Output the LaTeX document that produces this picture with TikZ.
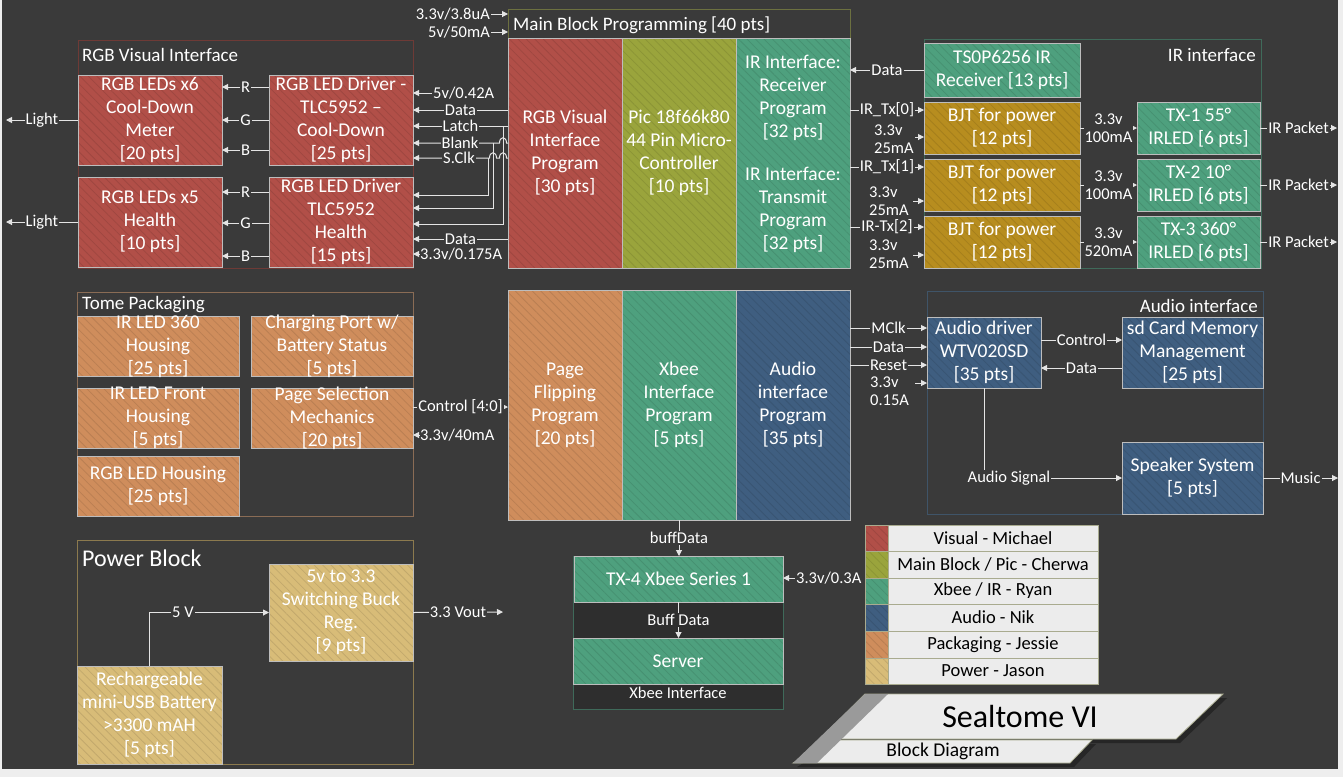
\documentclass[tikz,border=0pt]{standalone}
\usepackage{fontspec}
\setmainfont{Carlito}
\usetikzlibrary{arrows.meta,fit,calc,patterns.meta}
\definecolor{outerc}{HTML}{EEEEEE}
\definecolor{bg}{HTML}{3A3A3A}
\definecolor{xgrp}{HTML}{2E2E2E}
\definecolor{lc}{HTML}{E4E4E4}
\definecolor{bord}{HTML}{BDBDBD}
\definecolor{cred}{HTML}{B14F48}
\definecolor{colive}{HTML}{9AA43C}
\definecolor{cteal}{HTML}{4EA07E}
\definecolor{cblue}{HTML}{3F5E80}
\definecolor{corange}{HTML}{CF8D5C}
\definecolor{cgold}{HTML}{B78D1F}
\definecolor{ctan}{HTML}{D8BC78}
\definecolor{gred}{HTML}{6E3A36}
\definecolor{golive}{HTML}{6C7040}
\definecolor{gteal}{HTML}{3F6A5A}
\definecolor{gorange}{HTML}{8A6C55}
\definecolor{gblue}{HTML}{3F5468}
\definecolor{gtan}{HTML}{8C7A4E}
\definecolor{lcell}{HTML}{ECECEC}
\definecolor{lbord}{HTML}{A9AB8F}
\definecolor{shadowc}{HTML}{262626}
\definecolor{stripc}{HTML}{9A9A9A}
\newcommand\bxf{\fontsize{19.5}{23}\selectfont}
\newcommand\lbf{\fontsize{16.5}{18.5}\selectfont}
\newcommand\grpf{\fontsize{19}{22}\selectfont}
\tikzset{
  box/.style={draw=bord, line width=1pt, inner sep=0pt, outer sep=0pt,
    preaction={fill=#1},
    preaction={pattern={Lines[angle=-45,distance=6pt,line width=0.8pt]}, pattern color=#1!90!black}},
  btxt/.style={text=white, align=center, font=\bxf, inner sep=0pt},
  grp/.style={draw=#1, line width=1pt, fill=bg, inner sep=0pt, outer sep=0pt},
  gtitle/.style={text=white, font=\grpf, inner sep=0pt},
  lbl/.style={fill=bg, inner sep=1pt, text=white, font=\lbf},
  arr/.style={draw=lc, line width=1pt, -{Triangle[length=6pt,width=6pt]}},
  swatch/.style={draw=lbord, line width=1pt, inner sep=0pt, outer sep=0pt,
    preaction={fill=#1},
    preaction={pattern={Lines[angle=-45,distance=6pt,line width=0.8pt]}, pattern color=#1!90!black}},
  lcellbox/.style={draw=lbord, fill=lcell, line width=1pt, inner sep=0pt, outer sep=0pt},
  ltxt/.style={text=black, font=\fontsize{18.5}{21}\selectfont, inner sep=0pt},
}
\newcommand\mkbox[7]{\node[box=#2,fit={(#3,#4)(#5,#6)}](#1){};\node[btxt](#1t) at (#1.center){#7};}
\newcommand\mklegend[5]{\node[swatch=#2,fit={(865,#3)(888,#4)}](#1s){};\node[lcellbox,fit={(888,#3)(1098,#4)}](#1){};\node[ltxt](#1t) at (#1.center){#5};}
\begin{document}
\begin{tikzpicture}[x=1pt,y=-1pt]
\fill[outerc] (0,0) rectangle (1343,777);
\useasboundingbox (0,0) rectangle (1343,777);
\fill[bg] (2,0) rectangle (1338,769);

% ---------- groups ----------
\node[grp=gred, fit={(78,40)(413,268)}] (grgb) {};
\node[gtitle, anchor=west] (grgbt) at (82,55) {RGB Visual Interface};
\node[grp=golive, fit={(508,9)(850,268)}] (mgrp) {};
\node[gtitle, anchor=west] (mgrpt) at (513,25) {Main Block Programming [40 pts]};
\node[grp=gteal, fit={(924,39)(1261,268)}] (girg) {};
\node[gtitle, anchor=east] (girgt) at (1256,55) {IR interface};
\node[grp=gorange, fit={(77,292)(413,516)}] (gtome) {};
\node[gtitle, anchor=west] (gtomet) at (82,305) {Tome Packaging};
\node[grp=gblue, fit={(927,291)(1263,514)}] (gaud) {};
\node[gtitle, anchor=east] (gaudt) at (1258,306) {Audio interface};
\node[grp=gtan, fit={(77,540)(413,764)}] (gpow) {};
\node[gtitle, anchor=west, font=\fontsize{24}{28}\selectfont] (gpowt) at (82,558) {Power Block};
\node[grp=gteal, fill=xgrp, fit={(573,556)(783,709)}] (gxb) {};
\node[gtitle, font=\lbf] (gxbt) at (678,693) {Xbee Interface};

% ---------- RGB visual interface ----------
\mkbox{led1}{cred}{78}{75}{222}{165}{RGB LEDs x6\\Cool-Down\\Meter\\{[20 pts]}}
\mkbox{led2}{cred}{78}{177}{222}{267}{RGB LEDs x5\\Health\\{[10 pts]}}
\mkbox{drv1}{cred}{269}{75}{413}{165}{RGB LED Driver -\\TLC5952 –\\Cool-Down\\{[25 pts]}}
\mkbox{drv2}{cred}{269}{177}{413}{267}{RGB LED Driver\\TLC5952\\Health\\{[15 pts]}}

% ---------- main block ----------
\mkbox{rgbprog}{cred}{508}{38}{622}{268}{RGB Visual\\Interface\\Program\\{[30 pts]}}
\mkbox{pic}{colive}{622}{38}{736}{268}{Pic 18f66k80\\44 Pin Micro-\\Controller\\{[10 pts]}}
\mkbox{ircol}{cteal}{736}{38}{850}{268}{}
\node[btxt] (irrx) at (793,98) {IR Interface:\\Receiver\\Program\\{[32 pts]}};
\node[btxt] (irtx) at (793,210) {IR Interface:\\Transmit\\Program\\{[32 pts]}};
\mkbox{pageflip}{corange}{508}{290}{622}{520}{Page\\Flipping\\Program\\{[20 pts]}}
\mkbox{xbeeprog}{cteal}{622}{290}{736}{520}{Xbee\\Interface\\Program\\{[5 pts]}}
\mkbox{audprog}{cblue}{736}{290}{850}{520}{Audio\\interface\\Program\\{[35 pts]}}

% ---------- IR interface ----------
\mkbox{rx}{cteal}{924}{43}{1080}{97}{TS0P6256 IR\\Receiver [13 pts]}
\mkbox{bjt1}{cgold}{924}{102}{1080}{154}{BJT for power\\{[12 pts]}}
\mkbox{bjt2}{cgold}{924}{159}{1080}{211}{BJT for power\\{[12 pts]}}
\mkbox{bjt3}{cgold}{924}{216}{1080}{268}{BJT for power\\{[12 pts]}}
\mkbox{tx1}{cteal}{1137}{102}{1260}{154}{TX-1 55°\\IRLED [6 pts]}
\mkbox{tx2}{cteal}{1137}{159}{1260}{211}{TX-2 10°\\IRLED [6 pts]}
\mkbox{tx3}{cteal}{1137}{216}{1260}{268}{TX-3 360°\\IRLED [6 pts]}

% ---------- Tome packaging ----------
\mkbox{irled}{corange}{77}{316}{239}{376}{IR LED 360\\Housing\\{[25 pts]}}
\mkbox{charge}{corange}{251}{316}{413}{376}{Charging Port w/\\Battery Status\\{[5 pts]}}
\mkbox{irfront}{corange}{77}{388}{239}{448}{IR LED Front\\Housing\\{[5 pts]}}
\mkbox{pagesel}{corange}{251}{388}{413}{448}{Page Selection\\Mechanics\\{[20 pts]}}
\mkbox{rgbhouse}{corange}{77}{456}{239}{516}{RGB LED Housing\\{[25 pts]}}

% ---------- Audio interface ----------
\mkbox{adrv}{cblue}{927}{317}{1041}{388}{Audio driver\\WTV020SD\\{[35 pts]}}
\mkbox{sdcard}{cblue}{1122}{317}{1263}{388}{sd Card Memory\\Management\\{[25 pts]}}
\mkbox{spk}{cblue}{1122}{442}{1263}{514}{Speaker System\\{[5 pts]}}

% ---------- Power ----------
\mkbox{buck}{ctan}{269}{564}{413}{661}{5v to 3.3\\Switching Buck\\Reg.\\{[9 pts]}}
\mkbox{batt}{ctan}{77}{666}{222}{764}{Rechargeable\\mini-USB Battery\\>3300 mAH\\{[5 pts]}}

% ---------- Xbee ----------
\mkbox{tx4}{cteal}{574}{556}{783}{602}{TX-4 Xbee Series 1}
\mkbox{server}{cteal}{573}{638}{783}{684}{Server}

% ---------- legend ----------
\mklegend{lg1}{cred}{525}{551}{Visual - Michael}
\mklegend{lg2}{colive}{551}{578}{Main Block / Pic - Cherwa}
\mklegend{lg3}{cteal}{578}{604}{Xbee / IR - Ryan}
\mklegend{lg4}{cblue}{604}{631}{Audio - Nik}
\mklegend{lg5}{corange}{631}{658}{Packaging - Jessie}
\mklegend{lg6}{ctan}{658}{684}{Power - Jason}

% ---------- title banner ----------
\fill[shadowc] (869,698) -- (1227,698) -- (1180,743) -- (824,743) -- cycle;
\fill[shadowc] (834,744) -- (1096,744) -- (1074,767) -- (797,767) -- cycle;
\filldraw[fill=lcell, draw=lbord, line width=0.8pt] (865,694) -- (1223,694) -- (1176,739) -- (820,739) -- cycle;
\filldraw[fill=lcell, draw=lbord, line width=0.8pt] (830,740) -- (1092,740) -- (1070,763) -- (793,763) -- cycle;
\fill[stripc] (865,694) -- (888,694) -- (817,763) -- (793,763) -- cycle;
\node[text=black, font=\fontsize{32}{35}\selectfont, inner sep=0pt] (ttl) at (1020,716) {Sealtome VI};
\node[text=black, font=\fontsize{19.5}{21}\selectfont, inner sep=0pt] (subttl) at (943,751) {Block Diagram};

% ---------- connectors: RGB ----------
\coordinate (light1) at (6,120);
\coordinate (light2) at (6,222);
\draw[arr] (led1.west) -- node[lbl] (lt1) {Light} (light1);
\draw[arr] (led2.west) -- node[lbl] (lt2) {Light} (light2);
\draw[arr] (drv1.west |- 0,87) -- node[lbl] (r1) {R} (led1.east |- 0,87);
\draw[arr] (drv1.west |- 0,120) -- node[lbl] (g1) {G} (led1.east |- 0,120);
\draw[arr] (drv1.west |- 0,150) -- node[lbl] (b1) {B} (led1.east |- 0,150);
\draw[arr] (drv2.west |- 0,192) -- node[lbl] (r2) {R} (led2.east |- 0,192);
\draw[arr] (drv2.west |- 0,223) -- node[lbl] (g2) {G} (led2.east |- 0,223);
\draw[arr] (drv2.west |- 0,256) -- node[lbl] (b2) {B} (led2.east |- 0,256);

\node[lbl, anchor=west] (v042) at (432,93) {5v/0.42A};
\draw[arr] (v042.west) -- (drv1.east |- v042.west);
\draw[arr] (rgbprog.west |- 0,110) -- node[lbl] (dat1) {Data} (drv1.east |- 0,110);
\draw[arr] (rgbprog.west |- 0,126) -- node[lbl] (latch) {Latch} (drv1.east |- 0,126);
\coordinate (latchb) at (503,126);
\coordinate (blankb) at (493,143);
\coordinate (sclkb) at (488,158);
\draw[arr] (latchb) |- (drv2.east |- 0,224);
\draw[arr] (blankb) |- (drv2.east |- 0,208);
\draw[arr] (sclkb) |- (drv2.east |- 0,195);
\draw[arr] (rgbprog.west |- 0,143) -- (506.5,143) .. controls (506.5,136) and (499.5,136) .. (499.5,143) -- (drv1.east |- 0,143);
\node[lbl] (blank) at (460,143) {Blank};
\draw[arr] (rgbprog.west |- 0,158) -- (506.5,158) .. controls (506.5,151) and (499.5,151) .. (499.5,158) -- (496.5,158) .. controls (496.5,151) and (489.5,151) .. (489.5,158) -- (drv1.east |- 0,158);
\node[lbl] (sclk) at (459,158) {S.Clk};
\draw[arr] (rgbprog.west |- 0,239) -- node[lbl] (dat2) {Data} (drv2.east |- 0,239);
\node[lbl, anchor=west] (v0175) at (419,254) {3.3v/0.175A};
\draw[arr] (v0175.west) -- (drv2.east |- v0175.west);

% ---------- main block inputs ----------
\node[lbl, anchor=east] (v38) at (491,14) {3.3v/3.8uA};
\draw[arr] (v38.east) -- (mgrp.west |- v38.east);
\node[lbl, anchor=east] (v50) at (491,32) {5v/50mA};
\draw[arr] (v50.east) -- (mgrp.west |- v50.east);

% ---------- IR connectors ----------
\draw[arr] (rx.west) -- node[lbl] (rxd) {Data} (ircol.east |- rx.west);
\draw[arr] (ircol.east |- 0,110) -- node[lbl] (tx0l) {IR\_Tx[0]} (bjt1.west |- 0,110);
\draw[arr] (ircol.east |- 0,167) -- node[lbl] (tx1l) {IR\_Tx[1]} (bjt2.west |- 0,167);
\draw[arr] (ircol.east |- 0,227) -- node[lbl] (tx2l) {IR-Tx[2]} (bjt3.west |- 0,227);
\node[lbl, align=left, anchor=west] (p1) at (873,139) {3.3v\\25mA};
\node[lbl, align=left, anchor=west] (p2) at (868,201) {3.3v\\25mA};
\node[lbl, align=left, anchor=west] (p3) at (868,254) {3.3v\\25mA};
\coordinate (p1a) at (915,137);
\coordinate (p2a) at (913,201);
\coordinate (p3a) at (913,255);
\draw[arr] (p1a) -- (bjt1.west |- p1a);
\draw[arr] (p2a) -- (bjt2.west |- p2a);
\draw[arr] (p3a) -- (bjt3.west |- p3a);
\draw[arr] (bjt1.east) -- node[lbl, align=center] (c1) {3.3v\\100mA} (tx1.west);
\draw[arr] (bjt2.east) -- node[lbl, align=center] (c2) {3.3v\\100mA} (tx2.west);
\draw[arr] (bjt3.east) -- node[lbl, align=center] (c3) {3.3v\\520mA} (tx3.west);
\coordinate (irp1) at (1337,128);
\coordinate (irp2) at (1337,185);
\coordinate (irp3) at (1337,242);
\draw[arr] (tx1.east) -- node[lbl] (ip1) {IR Packet} (irp1);
\draw[arr] (tx2.east) -- node[lbl] (ip2) {IR Packet} (irp2);
\draw[arr] (tx3.east) -- node[lbl] (ip3) {IR Packet} (irp3);

% ---------- Tome connectors ----------
\draw[arr] (pagesel.east |- 0,407) -- node[lbl] (ctl) {Control [4:0]} (pageflip.west |- 0,407);
\node[lbl, anchor=west] (v40) at (419,435) {3.3v/40mA};
\draw[arr] (v40.west) -- (pagesel.east |- v40.west);

% ---------- Audio connectors ----------
\draw[arr] (audprog.east |- 0,328) -- node[lbl] (mclk) {MClk} (adrv.west |- 0,328);
\draw[arr] (audprog.east |- 0,347) -- node[lbl] (adat) {Data} (adrv.west |- 0,347);
\draw[arr] (audprog.east |- 0,365) -- node[lbl] (arst) {Reset} (adrv.west |- 0,365);
\node[lbl, align=left, anchor=west] (p015) at (869,391) {3.3v\\0.15A};
\coordinate (p015a) at (915,383);
\draw[arr] (p015a) -- (adrv.west |- p015a);
\draw[arr] (adrv.east |- 0,340) -- node[lbl] (actl) {Control} (sdcard.west |- 0,340);
\draw[arr] (sdcard.west |- 0,368) -- node[lbl] (sdat) {Data} (adrv.east |- 0,368);
\draw[arr] (adrv.south) |- (spk.west);
\node[lbl] (asig) at (1009,478) {Audio Signal};
\coordinate (music) at (1338,478);
\draw[arr] (spk.east) -- node[lbl] (mus) {Music} (music);

% ---------- Power connectors ----------
\draw[arr] (batt.north) |- node[lbl, pos=0.64] (v5) {5 V} (buck.west);
\coordinate (vout) at (503,612);
\draw[arr] (buck.east) -- node[lbl] (vo) {3.3 Vout} (vout);

% ---------- Xbee connectors ----------
\draw[arr] (xbeeprog.south) -- node[lbl] (bd1) {buffData} (tx4.north -| xbeeprog.south);
\draw[arr] (tx4.south) -- node[lbl, fill=xgrp] (bd2) {Buff Data} (server.north -| tx4.south);
\node[lbl, anchor=west] (v03) at (795,578) {3.3v/0.3A};
\draw[arr] (v03.west) -- (tx4.east |- v03.west);
\end{tikzpicture}
\end{document}
